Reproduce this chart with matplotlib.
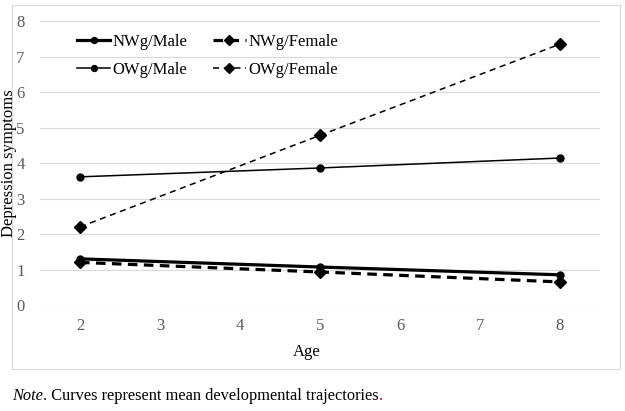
import matplotlib
matplotlib.use("Agg")
import matplotlib.pyplot as plt
from matplotlib.patches import Rectangle

plt.rcParams['font.family'] = ['Liberation Serif', 'DejaVu Serif']

ages = [2, 5, 8]
nwg_male = [1.30, 1.07, 0.85]
nwg_female = [1.20, 0.93, 0.65]
owg_male = [3.61, 3.86, 4.14]
owg_female = [2.20, 4.78, 7.35]
x_ticks = [2, 3, 4, 5, 6, 7, 8]
y_ticks = [0, 1, 2, 3, 4, 5, 6, 7, 8]

W, H = 625, 411
fig = plt.figure(figsize=(W / 100, H / 100), dpi=100)

# outer chart frame
fig.patches.append(Rectangle((12 / W, 1 - 369 / H), 608 / W, 364 / H,
                             transform=fig.transFigure, fill=False,
                             edgecolor='#d9d9d9', linewidth=0.8))

ax = fig.add_axes([40 / W, 1 - 305 / H, 560 / W, 284 / H])
ax.set_xlim(1.5, 8.5)
ax.set_ylim(0, 8)
ax.set_xticks(x_ticks)
ax.set_yticks(y_ticks)
ax.grid(axis='y', color='#d9d9d9', linewidth=0.8)
ax.set_axisbelow(True)
for s in ax.spines.values():
    s.set_visible(False)
ax.tick_params(length=0, labelsize=12, labelcolor='#595959')
ax.tick_params(axis='y', pad=11)
ax.tick_params(axis='x', pad=9)

h1, = ax.plot(ages, nwg_male, color='black', lw=2.3, marker='o', ms=5, label='NWg/Male')
h2, = ax.plot(ages, nwg_female, color='black', lw=2.3, ls=(0, (3, 2)), marker='D', ms=6.5, label='NWg/Female')
h3, = ax.plot(ages, owg_male, color='black', lw=1.1, marker='o', ms=5, label='OWg/Male')
h4, = ax.plot(ages, owg_female, color='black', lw=1.1, ls=(0, (4, 3)), marker='D', ms=6, label='OWg/Female')

handles = [h1, h3, h2, h4]
leg = ax.legend(handles, [h.get_label() for h in handles],
                loc='upper left', ncol=2, frameon=False, fontsize=12,
                bbox_to_anchor=(77 / W, 1 - 34 / H), bbox_transform=fig.transFigure,
                borderaxespad=0, borderpad=0,
                handlelength=2.0, handletextpad=0.15,
                columnspacing=1.5, labelspacing=0.7, markerscale=0.85)

fig.text(9 / W, 1 - 163 / H, 'Depression symptoms', rotation=90,
         ha='center', va='center', fontsize=12)
fig.text(307 / W, 1 - 352 / H, 'Age', ha='center', va='center', fontsize=12)

ny = 1 - 396 / H
nfs = 11.8
t1 = fig.text(12 / W, ny, 'Note', style='italic', ha='left', va='center', fontsize=nfs)
fig.canvas.draw()
bb = t1.get_window_extent()
t2 = fig.text(bb.x1 / W, ny, '. Curves represent mean developmental trajectories',
              ha='left', va='center', fontsize=nfs)
fig.canvas.draw()
bb2 = t2.get_window_extent()
fig.text(bb2.x1 / W, ny, '.', color='#c00000', ha='left', va='center', fontsize=nfs)

fig.savefig('out.png', dpi=100)
